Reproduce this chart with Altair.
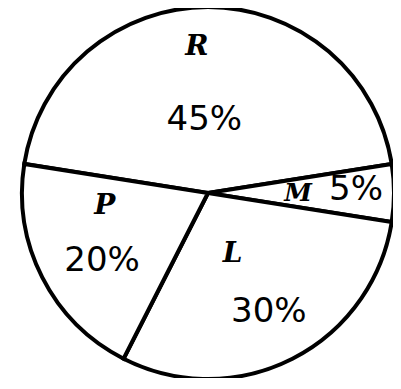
import math
import altair as alt
import pandas as pd

categories = ["R", "M", "L", "P"]
shares = [45, 5, 30, 20]
pct_labels = ["45%", "5%", "30%", "20%"]

df = pd.DataFrame({
    "cat": categories,
    "share": shares,
    "pct": pct_labels,
    "idx": list(range(len(categories))),
})

start = math.radians(279)
theta_scale = alt.Scale(domain=[0, 100], range=[start, start + 2 * math.pi])

# label placement (pixels for radius, share units for angle nudges)
name_r = "{'R': 146, 'M': 90, 'L': 66, 'P': 104}[datum.cat]"
name_t = "{'R': -1.2, 'M': 0, 'L': 1.4, 'P': 5.5}[datum.cat]"
pct_r = "{'R': 73, 'M': 148, 'L': 134, 'P': 126}[datum.cat]"
pct_t = "{'R': -0.8, 'M': -0.3, 'L': 0, 'P': -1.6}[datum.cat]"
name_size = "{'R': 28, 'M': 25, 'L': 28, 'P': 28}[datum.cat]"

base = alt.Chart(df).transform_window(
    end="sum(share)", sort=[alt.SortField("idx", order="ascending")], frame=[None, 0]
).transform_calculate(
    begin="datum.end - datum.share",
    mid="datum.end - datum.share / 2",
).transform_calculate(
    nr=name_r,
    nt="datum.mid + " + name_t,
    pr=pct_r,
    pt="datum.mid + " + pct_t,
    ns=name_size,
)

pie = base.mark_arc(outerRadius=186, fill="white", stroke="black", strokeWidth=4).encode(
    theta=alt.Theta("begin:Q", scale=theta_scale, stack=None),
    theta2="end:Q",
)

names = base.mark_text(
    font="DejaVu Serif", fontStyle="italic", fontWeight="bold", color="black"
).encode(
    theta=alt.Theta("nt:Q", scale=theta_scale, stack=None),
    radius=alt.Radius("nr:Q", scale=None),
    size=alt.Size("ns:Q", scale=None),
    text="cat:N",
)

pcts = base.mark_text(
    font="DejaVu Sans", fontSize=34, color="black"
).encode(
    theta=alt.Theta("pt:Q", scale=theta_scale, stack=None),
    radius=alt.Radius("pr:Q", scale=None),
    text="pct:N",
)

chart = alt.layer(pie, names, pcts).properties(
    width=370,
    height=370,
    padding={"left": 15, "top": 0, "right": 0, "bottom": 0},
    autosize=alt.AutoSizeParams(type="none"),
    background="white",
).configure_view(stroke=None)

chart.save("out.html", embed_options={"renderer": "svg", "actions": False})
